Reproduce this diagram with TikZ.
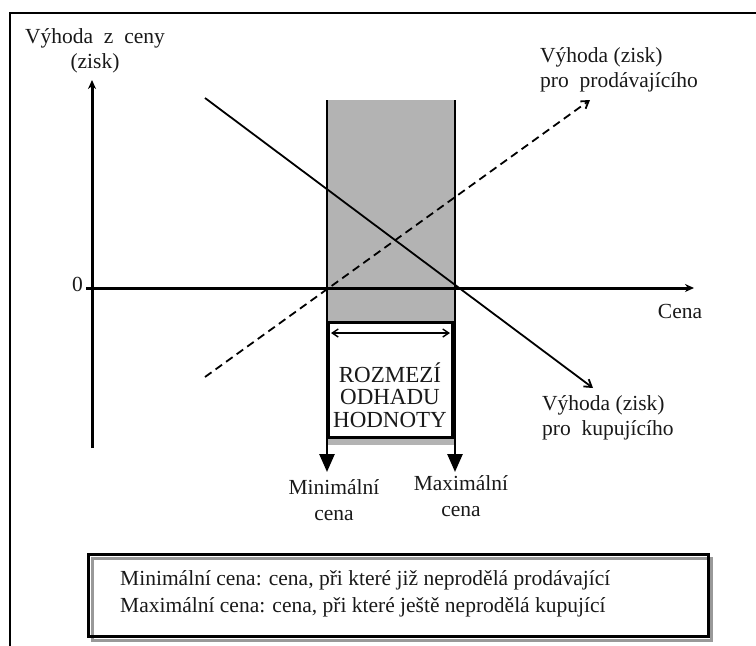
\documentclass[tikz,border=0pt]{standalone}
\usepackage{fontspec}
\setmainfont{Liberation Serif}
\usetikzlibrary{arrows.meta}
\begin{document}
\begin{tikzpicture}[x=1pt,y=-1pt,
  lbl/.style={inner sep=0pt,font=\fontsize{21.5}{25.5}\selectfont,text=black!90},
  axis/.style={line width=3pt,-{Stealth[length=9pt,width=8pt]}},
  bound/.style={line width=2.6pt,-{Triangle[length=18pt,width=15pt]}},
  curve/.style={line width=1.8pt,-{Straight Barb[length=7pt,width=9pt,line width=1.8pt]}}]
\useasboundingbox (0,0) rectangle (756,646);
\definecolor{band}{HTML}{B3B3B3}
% outer frame
\draw[line width=2pt] (10,646) -- (10,13) -- (756,13);
% gray band
\fill[band] (327,100) rectangle (455,445);
% axes
\coordinate (yb) at (92,448);
\coordinate (yt) at (92,80);
\coordinate (xl) at (86,288);
\coordinate (xr) at (694,288);
\draw[axis] (yb) -- (yt);
\draw[axis] (xl) -- (xr);
\node[lbl,anchor=east] (zero) at (83,284) {0};
\node[lbl] (cena) at (680,311) {Cena};
\node[lbl,align=center] (ylab) at (95,51) {Výhoda\ \ z\ \ ceny\\(zisk)};
% white box
\node[draw,line width=3pt,fill=white,minimum width=124pt,minimum height=115pt,inner sep=0pt] (box) at (390,380) {};
\node[lbl,align=center,font=\fontsize{23}{22.5}\selectfont] (boxtxt) at (390,395) {ROZMEZÍ\\ODHADU\\HODNOTY};
\coordinate (dl) at (331,333);
\coordinate (dr) at (450,333);
\draw[line width=1.6pt,{Straight Barb[length=6pt,width=8pt,line width=1.4pt]}-{Straight Barb[length=6pt,width=8pt,line width=1.4pt]}] (dl) -- (dr);
% bounds
\coordinate (mint) at (327,100);
\coordinate (minb) at (327,472);
\coordinate (maxt) at (455,100);
\coordinate (maxb) at (455,472);
\draw[bound] (mint) -- (minb);
\draw[bound] (maxt) -- (maxb);
% lines
\coordinate (bs) at (205,98);
\coordinate (be) at (593,388);
\coordinate (ss) at (205,377);
\coordinate (se) at (590,100);
\draw[curve] (bs) -- (be);
\draw[curve,dash pattern=on 8pt off 5pt] (ss) -- (se);
% labels
\node[lbl,align=left,anchor=west] (sell) at (540,70) {Výhoda (zisk)\\pro\ \ prodávajícího};
\node[lbl,align=left,anchor=west] (buy) at (542,418) {Výhoda (zisk)\\pro\ \ kupujícího};
\node[lbl,align=center] (minl) at (334,500) {Minimální\\cena};
\node[lbl,align=center] (maxl) at (461,496) {Maximální\\cena};
% legend box
\draw[black!40,line width=3pt] (92,558) rectangle (711,640);
\node[draw,line width=3pt,minimum width=620pt,minimum height=82pt,inner sep=0pt] (leg) at (398,595) {};
\node[lbl,align=left,anchor=west,font=\fontsize{21.5}{27}\selectfont] (legtxt) at (120,594) {Minimální cena: cena, při které již neprodělá prodávající\\Maximální cena: cena, při které ještě neprodělá kupující};
\end{tikzpicture}
\end{document}
